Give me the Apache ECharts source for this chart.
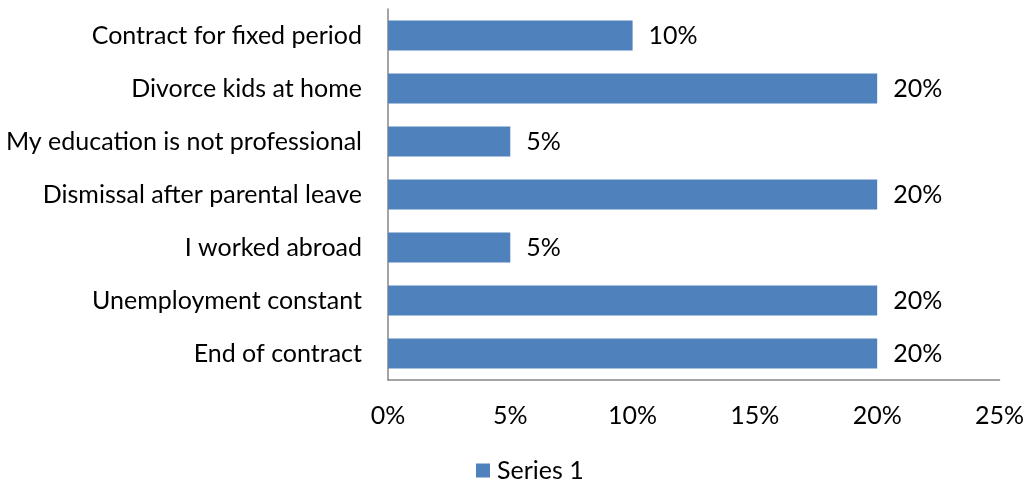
<!DOCTYPE html>
<html>
<head>
<meta charset="utf-8">
<script src="https://cdn.jsdelivr.net/npm/echarts@6/dist/echarts.min.js"></script>
<style>
  html, body { margin: 0; padding: 0; background: #fff; }
  #chart { width: 1027px; height: 483px; }
</style>
</head>
<body>
<div id="chart"></div>
<script>
// categories top to bottom as in the picture
const categories = [
  "Contract for fixed period",
  "Divorce kids at home",
  "My education is not professional",
  "Dismissal after parental leave",
  "I worked abroad",
  "Unemployment constant",
  "End of contract",
];
const series1 = [10, 20, 5, 20, 5, 20, 20];
const seriesName = "Series 1";

const chart = echarts.init(document.getElementById("chart"));
const font = "Lato, 'Open Sans', sans-serif";
const fs = 25;

const option = {
  animation: false,
  textStyle: { fontFamily: font },
  legend: {
    top: 453,
    left: 471,
    itemWidth: 14,
    itemHeight: 14,
    icon: "rect",
    itemGap: 6,
    textStyle: { fontSize: fs, color: "#000", fontFamily: font, padding: [0, 0, 0, 2] },
    data: [seriesName],
  },
  grid: {
    left: 388,
    right: 26,
    top: 9,
    bottom: 103,
    containLabel: false,
  },
  xAxis: {
    type: "value",
    min: 0,
    max: 25,
    interval: 5,
    splitLine: { show: false },
    axisTick: { show: false },
    axisLine: { show: true, lineStyle: { color: "#868686", width: 1.5 } },
    axisLabel: {
      formatter: "{value}%",
      fontSize: fs,
      color: "#000",
      margin: 23,
      fontFamily: font,
    },
  },
  yAxis: {
    type: "category",
    inverse: true,
    data: categories,
    axisTick: { show: false },
    axisLine: { show: true, lineStyle: { color: "#868686", width: 1.5 } },
    axisLabel: { fontSize: fs, color: "#000", margin: 26, fontFamily: font },
  },
  series: [
    {
      name: seriesName,
      type: "bar",
      data: series1,
      barCategoryGap: "43%",
      itemStyle: { color: "#4f81bd" },
      label: {
        show: true,
        position: "right",
        distance: 16,
        formatter: "{c}%",
        fontSize: fs,
        color: "#000",
        fontFamily: font,
      },
    },
  ],
};

chart.setOption(option);
</script>
</body>
</html>
